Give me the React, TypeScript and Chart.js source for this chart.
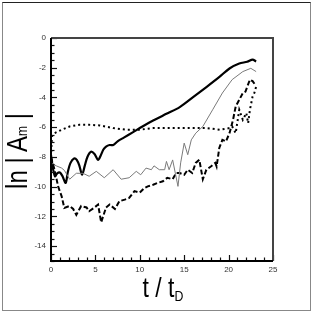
import React, { useEffect, useRef } from "react";
import { Chart, registerables } from "chart.js";

Chart.register(...registerables);

const xTicks = [0, 5, 10, 15, 20, 25];
const yTicks = [0, -2, -4, -6, -8, -10, -12, -14];

// thick solid
const solidT = [0, 0.2, 0.45, 0.7, 1.0, 1.3, 1.65, 1.9, 2.2, 2.6, 2.9, 3.2, 3.5, 3.8, 4.1, 4.5, 4.9, 5.3, 5.6, 5.9, 6.2, 6.6, 7.0, 7.5, 8.2, 9.2, 10.3, 11.5, 13, 14.5, 16, 17.5, 19, 20.1, 21.2, 22.1, 22.7, 23.1];
const solidV = [-7.9, -8.7, -9.3, -9.1, -9.05, -9.3, -9.75, -9.0, -8.4, -8.1, -8.2, -8.6, -9.2, -8.6, -8.0, -7.65, -7.8, -8.2, -7.9, -7.5, -7.3, -7.2, -7.2, -6.95, -6.7, -6.35, -5.95, -5.55, -5.1, -4.65, -3.98, -3.3, -2.6, -2.05, -1.72, -1.6, -1.45, -1.58];

// thin gray
const grayT = [0, 0.6, 1.2, 1.5, 2.1, 2.85, 3.6, 4.3, 5.1, 6.0, 7.0, 7.9, 8.8, 9.6, 10.1, 10.7, 11.3, 11.6, 12.2, 12.8, 13.0, 13.3, 13.7, 14.3, 14.6, 15.0, 15.4, 15.8, 16.3, 17.1, 18.2, 19.3, 20.4, 21.6, 22.5, 23.1];
const grayV = [-8.4, -8.6, -8.75, -8.9, -9.5, -9.1, -9.1, -9.3, -8.97, -9.4, -8.86, -9.5, -9.4, -8.97, -9.2, -8.75, -8.86, -8.6, -8.86, -8.86, -8.3, -8.86, -8.2, -9.98, -8.4, -7.07, -7.85, -6.85, -6.4, -5.95, -4.83, -3.7, -2.8, -2.26, -2.04, -2.26];

// thick dotted
const dotT = [0, 0.1, 0.4, 1.2, 2.1, 3.2, 4.3, 5.5, 7.0, 8.5, 10, 11.5, 13, 14.5, 16, 17.5, 19, 20.1, 20.4, 20.8, 21.2, 21.6, 22.0, 22.2, 22.4, 22.7, 22.9, 23.1];
const dotV = [-8.0, -6.6, -6.4, -6.17, -5.95, -5.84, -5.84, -5.88, -6.06, -6.17, -6.17, -6.06, -6.06, -6.06, -6.06, -6.06, -6.17, -6.06, -5.95, -6.4, -4.83, -5.5, -5.05, -5.73, -4.83, -3.94, -3.7, -3.27];

// thick dashed
const dashT = [0, 0.4, 0.8, 1.2, 1.5, 2.1, 2.5, 2.85, 3.4, 4.0, 4.3, 4.9, 5.3, 5.65, 6.2, 6.6, 7.2, 7.7, 8.3, 8.8, 9.4, 10.0, 10.5, 10.9, 11.5, 12.0, 12.6, 13.1, 13.7, 14.1, 14.5, 15.0, 15.4, 15.9, 16.3, 16.7, 17.1, 17.5, 18.0, 18.5, 18.65, 18.95, 19.3, 19.7, 20.1, 20.5, 20.8, 21.2, 21.6, 21.9, 22.4, 22.7, 23.0];
const dashV = [-8.0, -8.86, -9.98, -10.65, -11.43, -11.3, -11.5, -11.9, -11.3, -11.4, -11.65, -11.4, -11.2, -12.4, -11.4, -11.2, -11.5, -10.98, -10.87, -10.76, -10.3, -10.4, -10.1, -9.98, -9.87, -9.75, -9.64, -9.4, -9.5, -9.08, -9.08, -9.2, -8.86, -9.08, -8.4, -8.19, -9.5, -8.86, -8.64, -8.4, -8.64, -7.4, -6.85, -6.96, -6.4, -5.5, -4.6, -4.16, -3.7, -3.6, -2.8, -2.9, -3.15];

const toPts = (t: number[], v: number[]) => t.map((x, i) => ({ x, y: v[i] }));

const framePlugin = {
  id: "frameTicks",
  afterDatasetsDraw(chart: any) {
    const { ctx, chartArea, scales } = chart;
    const xs = scales.x;
    const ys = scales.y;
    const { left, right, top, bottom } = chartArea;
    ctx.save();
    ctx.strokeStyle = "#111";
    ctx.lineWidth = 1.2;
    // y ticks (inward)
    for (let v = -15; v <= 0.001; v += 0.5) {
      const p = Math.round(ys.getPixelForValue(v)) + 0.5;
      const major = Math.abs(v / 2 - Math.round(v / 2)) < 1e-6;
      ctx.beginPath();
      ctx.moveTo(left, p);
      ctx.lineTo(left + (major ? 6 : 3.5), p);
      ctx.stroke();
    }
    for (let v = 0; v <= 25.001; v += 1) {
      const p = Math.round(xs.getPixelForValue(v)) + 0.5;
      const major = v % 5 === 0;
      ctx.beginPath();
      ctx.moveTo(p, bottom);
      ctx.lineTo(p, bottom - (major ? 6 : 3.5));
      ctx.stroke();
    }
    ctx.lineWidth = 2;
    ctx.strokeStyle = "#444";
    ctx.beginPath();
    ctx.moveTo(left, top);
    ctx.lineTo(right, top);
    ctx.lineTo(right, bottom);
    ctx.stroke();
    ctx.strokeStyle = "#000";
    ctx.beginPath();
    ctx.moveTo(left, top);
    ctx.lineTo(left, bottom);
    ctx.lineTo(right, bottom);
    ctx.stroke();
    ctx.restore();
  },
};

export default function App() {
  const ref = useRef<HTMLCanvasElement | null>(null);
  useEffect(() => {
    if (!ref.current) return;
    const font = { family: "'Liberation Sans', Arial, Helvetica, sans-serif", size: 8 };
    const chart = new Chart(ref.current, {
      type: "line",
      data: {
        datasets: [
          { data: toPts(grayT, grayV), borderColor: "#7a7a7a", borderWidth: 1, pointRadius: 0, tension: 0 },
          { data: toPts(dotT, dotV), borderColor: "#000", borderWidth: 2, borderDash: [2, 3], pointRadius: 0, tension: 0 },
          { data: toPts(dashT, dashV), borderColor: "#000", borderWidth: 2, borderDash: [5, 2.5], pointRadius: 0, tension: 0 },
          { data: toPts(solidT, solidV), borderColor: "#000", borderWidth: 2.2, pointRadius: 0, tension: 0.3 },
        ],
      },
      options: {
        animation: false,
        responsive: false,
        devicePixelRatio: 1,
        layout: { padding: { left: 0, right: 39, top: 38, bottom: 0 } },
        plugins: { legend: { display: false }, tooltip: { enabled: false } },
        scales: {
          x: {
            type: "linear",
            min: 0,
            max: 25,
            border: { display: false },
            grid: { display: false, drawTicks: false },
            afterBuildTicks: (s: any) => { s.ticks = xTicks.map((value) => ({ value })); },
            afterFit: (s: any) => { s.height = 51; },
            ticks: { font, color: "#333", padding: 4, maxRotation: 0, autoSkip: false, callback: (v: any) => String(v) },
          },
          y: {
            type: "linear",
            min: -15,
            max: 0,
            border: { display: false },
            grid: { display: false, drawTicks: false },
            afterBuildTicks: (s: any) => { s.ticks = yTicks.map((value) => ({ value })); },
            afterFit: (s: any) => { s.width = 51; },
            ticks: { font, color: "#333", padding: 5, autoSkip: false, callback: (v: any) => String(v) },
          },
        },
      },
      plugins: [framePlugin],
    } as any);
    return () => chart.destroy();
  }, []);

  const titleFont = "'Liberation Sans', Arial, Helvetica, sans-serif";
  return (
    <div style={{ position: "fixed", left: 0, top: 0, width: 312, height: 312, background: "#fff" }}>
      <canvas ref={ref} width={312} height={312} style={{ position: "absolute", left: 0, top: 0 }} />
      <div style={{ position: "absolute", left: 2, top: 2, width: 307, height: 307, borderTop: "1px solid #222", borderLeft: "1px solid #888", borderRight: "1px solid #888", borderBottom: "1px solid #888", pointerEvents: "none" }} />
      <div
        style={{
          position: "absolute", left: 17, top: 150.5, transform: "translate(-50%, -50%) rotate(-90deg) scaleX(0.8)",
          fontFamily: titleFont, fontSize: 30, lineHeight: 1, whiteSpace: "nowrap", color: "#000",
        }}
      >
        ln | A<span style={{ fontSize: 15 }}>m</span> |
      </div>
      <div
        style={{
          position: "absolute", left: 163, top: 274, transform: "translateX(-50%) scaleX(0.82)",
          fontFamily: titleFont, fontSize: 28, lineHeight: 1, whiteSpace: "nowrap", color: "#000",
        }}
      >
        t / t<span style={{ fontSize: 15, position: "relative", top: 4 }}>D</span>
      </div>
    </div>
  );
}
